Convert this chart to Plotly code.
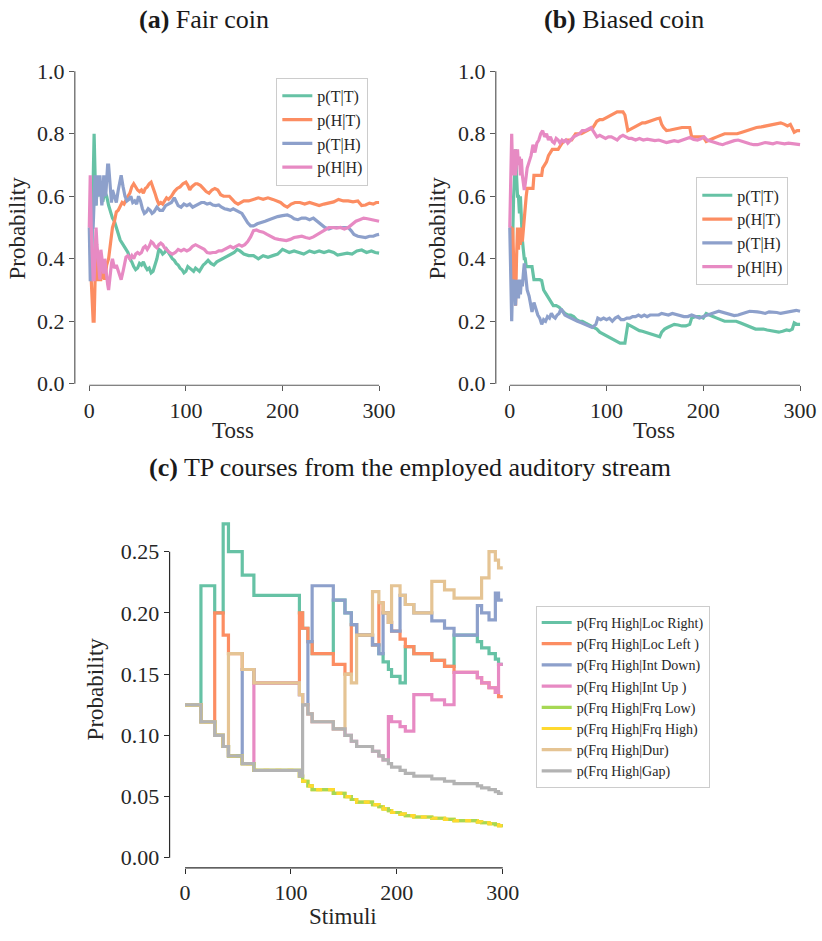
import plotly.graph_objects as go

W, H = 822, 941
FONT = "Liberation Serif"

GREEN, ORANGE, BLUE, PINK = "#66c2a5", "#fc8d62", "#8da0cb", "#e78ac3"
LIME, YELLOW, TAN, GREY = "#a6d854", "#ffd92f", "#e5c494", "#b3b3b3"

# ---------------- (a) Fair coin: running transition estimates ----------------
FAIR_TT_X = [0, 1, 2, 3, 4, 5, 6, 7, 8, 10, 12, 14, 16, 18, 20, 22, 24, 26, 28, 30, 32, 34, 36, 38, 40, 42, 44, 46, 48, 50,
             52, 54, 56, 58, 60, 62, 64, 66, 68, 70, 72, 74, 76, 78, 80, 82, 84, 86, 88, 90, 92, 94, 96, 98, 100, 102, 104,
             106, 108, 110, 112, 114, 116, 118, 120, 123, 126, 129, 132, 135, 138, 141, 144, 147, 150, 153, 156, 160, 165,
             170, 175, 180, 185, 190, 195, 200, 203, 207, 212, 217, 222, 228, 233, 238, 243, 248, 253, 257, 262, 267, 272,
             277, 282, 287, 292, 296, 300]
FAIR_TT_Y = [0.5, 0.5, 0.333, 0.5, 0.667, 0.8, 0.667, 0.571, 0.625, 0.6, 0.636, 0.583, 0.615, 0.6, 0.571, 0.55, 0.53, 0.52,
             0.5, 0.48, 0.46, 0.45, 0.44, 0.43, 0.42, 0.4, 0.39, 0.375, 0.365, 0.37, 0.385, 0.38, 0.39, 0.375, 0.365, 0.37,
             0.355, 0.36, 0.38, 0.4, 0.43, 0.425, 0.415, 0.42, 0.43, 0.42, 0.41, 0.4, 0.395, 0.385, 0.38, 0.37, 0.365, 0.355,
             0.36, 0.375, 0.37, 0.365, 0.36, 0.37, 0.365, 0.36, 0.37, 0.38, 0.385, 0.395, 0.385, 0.38, 0.39, 0.395, 0.4,
             0.405, 0.41, 0.415, 0.42, 0.43, 0.425, 0.415, 0.41, 0.41, 0.4, 0.41, 0.405, 0.41, 0.415, 0.43, 0.425, 0.42,
             0.425, 0.42, 0.415, 0.425, 0.42, 0.425, 0.42, 0.425, 0.42, 0.412, 0.415, 0.418, 0.415, 0.425, 0.428, 0.42,
             0.425, 0.42, 0.418]

FAIR_HT_X = [0, 1, 2, 3, 4, 5, 6, 7, 8, 9, 10, 12, 14, 16, 18, 20, 22, 24, 26, 28, 30, 32, 34, 36, 38, 40, 42, 44, 46, 48,
             50, 52, 54, 56, 58, 60, 62, 64, 66, 68, 70, 72, 74, 76, 78, 80, 82, 85, 88, 91, 94, 97, 100, 102, 104, 106,
             108, 110, 112, 115, 118, 121, 124, 127, 130, 133, 136, 139, 142, 145, 148, 151, 154, 157, 160, 165, 170, 175,
             180, 185, 190, 195, 198, 202, 205, 209, 213, 218, 223, 228, 233, 238, 243, 248, 253, 258, 263, 268, 273, 278,
             282, 286, 290, 294, 297, 300]
FAIR_HT_Y = [0.5, 0.5, 0.333, 0.25, 0.2, 0.2, 0.333, 0.333, 0.429, 0.375, 0.333, 0.333, 0.36, 0.333, 0.38, 0.4, 0.45, 0.5,
             0.52, 0.55, 0.555, 0.57, 0.58, 0.575, 0.59, 0.6, 0.61, 0.63, 0.64, 0.63, 0.62, 0.615, 0.62, 0.61, 0.625, 0.63,
             0.64, 0.645, 0.63, 0.61, 0.59, 0.575, 0.58, 0.575, 0.585, 0.595, 0.59, 0.6, 0.615, 0.625, 0.63, 0.64, 0.645,
             0.635, 0.62, 0.63, 0.635, 0.64, 0.64, 0.635, 0.625, 0.615, 0.61, 0.62, 0.625, 0.62, 0.605, 0.6, 0.6, 0.6, 0.59,
             0.58, 0.575, 0.58, 0.585, 0.585, 0.59, 0.595, 0.59, 0.595, 0.59, 0.585, 0.58, 0.57, 0.565, 0.575, 0.58, 0.58,
             0.575, 0.58, 0.575, 0.57, 0.575, 0.578, 0.582, 0.59, 0.585, 0.585, 0.582, 0.585, 0.57, 0.572, 0.578, 0.575,
             0.58, 0.58]

FAIR_TH_X = [0, 1, 2, 3, 4, 5, 6, 7, 8, 9, 10, 11, 12, 13, 14, 15, 16, 17, 18, 19, 20, 21, 22, 23, 24, 26, 28, 30, 32, 33,
             35, 37, 39, 41, 43, 45, 47, 49, 51, 53, 55, 57, 59, 61, 63, 65, 67, 70, 73, 76, 79, 82, 85, 88, 90, 92, 95, 98,
             101, 104, 107, 110, 113, 116, 119, 122, 125, 128, 131, 134, 137, 140, 143, 146, 149, 152, 155, 158, 161, 164,
             167, 170, 174, 178, 182, 186, 190, 195, 200, 205, 209, 212, 216, 220, 224, 228, 232, 236, 240, 244, 248, 252,
             256, 260, 264, 268, 271, 274, 278, 282, 286, 290, 294, 297, 300]
FAIR_TH_Y = [0.5, 0.333, 0.333, 0.5, 0.5, 0.6, 0.667, 0.571, 0.625, 0.667, 0.6, 0.667, 0.615, 0.571, 0.6, 0.667, 0.625,
             0.6, 0.65, 0.7, 0.7, 0.65, 0.6, 0.58, 0.62, 0.6, 0.58, 0.62, 0.65, 0.667, 0.63, 0.6, 0.585, 0.59, 0.6, 0.58,
             0.585, 0.575, 0.6, 0.585, 0.56, 0.545, 0.55, 0.56, 0.555, 0.545, 0.55, 0.565, 0.555, 0.555, 0.57, 0.575, 0.58,
             0.595, 0.58, 0.57, 0.565, 0.575, 0.57, 0.575, 0.565, 0.57, 0.575, 0.58, 0.58, 0.575, 0.578, 0.572, 0.57, 0.572,
             0.565, 0.56, 0.558, 0.555, 0.56, 0.555, 0.552, 0.545, 0.53, 0.515, 0.505, 0.505, 0.512, 0.515, 0.52, 0.525,
             0.53, 0.535, 0.538, 0.54, 0.535, 0.528, 0.525, 0.53, 0.53, 0.525, 0.53, 0.52, 0.508, 0.5, 0.495, 0.5, 0.5,
             0.5, 0.5, 0.5, 0.49, 0.478, 0.472, 0.47, 0.468, 0.472, 0.472, 0.476, 0.478]

FAIR_HH_X = [0, 1, 2, 3, 4, 5, 6, 7, 8, 9, 10, 11, 12, 13, 14, 15, 16, 17, 18, 19, 20, 21, 22, 23, 24, 25, 26, 28, 30, 32,
             33, 35, 36, 38, 40, 42, 44, 46, 48, 50, 52, 54, 56, 58, 60, 62, 64, 66, 68, 70, 72, 74, 76, 78, 80, 83, 86, 89,
             92, 95, 98, 101, 104, 107, 110, 113, 116, 119, 122, 125, 128, 131, 134, 137, 140, 143, 146, 149, 152, 155, 158,
             161, 164, 167, 170, 173, 176, 180, 184, 188, 192, 196, 200, 204, 208, 212, 216, 220, 224, 228, 232, 236, 240,
             244, 248, 252, 256, 260, 264, 268, 272, 276, 280, 284, 288, 292, 296, 300]
FAIR_HH_Y = [0.5, 0.667, 0.5, 0.4, 0.333, 0.333, 0.429, 0.5, 0.444, 0.4, 0.364, 0.333, 0.429, 0.4, 0.375, 0.353, 0.4,
             0.368, 0.333, 0.318, 0.3, 0.333, 0.36, 0.385, 0.4, 0.385, 0.37, 0.38, 0.36, 0.345, 0.333, 0.36, 0.38, 0.405,
             0.41, 0.4, 0.41, 0.4, 0.415, 0.42, 0.415, 0.42, 0.435, 0.44, 0.43, 0.44, 0.455, 0.45, 0.44, 0.435, 0.445, 0.45,
             0.445, 0.435, 0.43, 0.42, 0.415, 0.42, 0.43, 0.425, 0.43, 0.425, 0.43, 0.44, 0.445, 0.44, 0.435, 0.43, 0.42,
             0.418, 0.42, 0.42, 0.425, 0.425, 0.43, 0.435, 0.44, 0.435, 0.44, 0.445, 0.44, 0.445, 0.455, 0.47, 0.49, 0.492,
             0.488, 0.485, 0.478, 0.47, 0.465, 0.462, 0.46, 0.458, 0.462, 0.468, 0.47, 0.472, 0.468, 0.465, 0.47, 0.478,
             0.485, 0.492, 0.5, 0.5, 0.498, 0.5, 0.495, 0.5, 0.51, 0.52, 0.525, 0.53, 0.528, 0.525, 0.522, 0.52]

# ---------------- (b) Biased coin ----------------
BIAS_TT_X = [0, 1, 2, 3, 4, 5, 6, 7, 8, 9, 10, 11, 12, 13, 14, 15, 16, 17, 19, 21, 23, 25, 27, 29, 31, 33, 35, 37, 39, 41,
             43, 45, 48, 51, 54, 57, 60, 63, 66, 69, 72, 75, 78, 81, 84, 87, 90, 93, 96, 99, 102, 105, 108, 111, 114, 117,
             119, 120, 122, 125, 128, 131, 134, 137, 140, 144, 148, 152, 155, 157, 160, 163, 166, 170, 174, 178, 182, 186,
             188, 192, 196, 200, 203, 206, 210, 214, 218, 222, 226, 230, 234, 238, 242, 246, 250, 254, 258, 262, 266, 270,
             274, 278, 282, 286, 289, 292, 294, 297, 300]
BIAS_TT_Y = [0.5, 0.5, 0.333, 0.5, 0.6, 0.667, 0.75, 0.667, 0.6, 0.6, 0.545, 0.6, 0.5, 0.462, 0.429, 0.4, 0.4, 0.375,
             0.375, 0.375, 0.375, 0.333, 0.333, 0.333, 0.333, 0.33, 0.3, 0.29, 0.28, 0.27, 0.26, 0.25, 0.25, 0.245, 0.235,
             0.225, 0.22, 0.22, 0.215, 0.205, 0.2, 0.2, 0.195, 0.19, 0.185, 0.18, 0.175, 0.165, 0.16, 0.155, 0.15, 0.145,
             0.14, 0.135, 0.13, 0.13, 0.13, 0.15, 0.19, 0.185, 0.18, 0.175, 0.17, 0.168, 0.165, 0.16, 0.155, 0.152, 0.15,
             0.165, 0.175, 0.18, 0.185, 0.19, 0.188, 0.185, 0.185, 0.19, 0.21, 0.215, 0.215, 0.21, 0.225, 0.22, 0.215,
             0.21, 0.205, 0.2, 0.2, 0.2, 0.2, 0.195, 0.19, 0.185, 0.18, 0.175, 0.175, 0.175, 0.172, 0.17, 0.168, 0.165,
             0.168, 0.172, 0.17, 0.175, 0.195, 0.19, 0.19]

BIAS_HT_X = [0, 1, 2, 3, 4, 5, 6, 7, 8, 9, 10, 11, 12, 13, 14, 15, 16, 17, 18, 20, 22, 24, 25, 27, 29, 31, 33, 34, 36, 38,
             40, 42, 44, 47, 50, 52, 54, 56, 58, 61, 64, 66, 68, 71, 74, 77, 80, 83, 86, 88, 90, 93, 96, 99, 102, 105, 108,
             111, 114, 117, 119, 121, 122, 125, 128, 131, 134, 137, 140, 144, 148, 152, 155, 157, 159, 162, 166, 170, 174,
             178, 182, 186, 188, 192, 196, 200, 203, 206, 210, 214, 218, 222, 226, 230, 235, 240, 245, 250, 255, 260, 265,
             270, 275, 280, 284, 287, 290, 292, 294, 297, 300]
BIAS_HT_Y = [0.5, 0.5, 0.333, 0.5, 0.4, 0.333, 0.25, 0.4, 0.5, 0.429, 0.5, 0.444, 0.5, 0.455, 0.5, 0.54, 0.58, 0.6, 0.625,
             0.625, 0.625, 0.625, 0.667, 0.667, 0.667, 0.667, 0.667, 0.69, 0.7, 0.71, 0.73, 0.74, 0.75, 0.75, 0.75, 0.76,
             0.77, 0.775, 0.78, 0.78, 0.78, 0.79, 0.8, 0.8, 0.8, 0.805, 0.81, 0.815, 0.82, 0.83, 0.84, 0.845, 0.845, 0.85,
             0.855, 0.86, 0.865, 0.87, 0.87, 0.87, 0.86, 0.83, 0.81, 0.815, 0.82, 0.825, 0.83, 0.835, 0.835, 0.84, 0.845,
             0.848, 0.85, 0.83, 0.82, 0.81, 0.812, 0.815, 0.818, 0.82, 0.82, 0.82, 0.79, 0.79, 0.79, 0.79, 0.775, 0.78,
             0.785, 0.79, 0.795, 0.8, 0.8, 0.8, 0.8, 0.805, 0.81, 0.815, 0.82, 0.822, 0.825, 0.83, 0.833, 0.835, 0.83,
             0.825, 0.83, 0.815, 0.805, 0.81, 0.81]

BIAS_TH_X = [0, 1, 2, 3, 4, 5, 6, 7, 8, 9, 10, 11, 12, 13, 14, 15, 16, 17, 18, 20, 22, 23, 25, 27, 29, 31, 33, 35, 37, 39,
             41, 43, 45, 47, 49, 51, 53, 55, 57, 60, 63, 66, 70, 74, 78, 82, 85, 87, 89, 91, 94, 97, 100, 103, 106, 109,
             112, 115, 118, 121, 124, 127, 130, 133, 136, 139, 142, 145, 148, 151, 154, 157, 160, 164, 168, 172, 176, 180,
             184, 188, 192, 196, 200, 204, 208, 212, 216, 220, 224, 228, 232, 236, 240, 244, 248, 252, 256, 260, 264, 268,
             272, 276, 280, 284, 288, 292, 296, 300]
BIAS_TH_Y = [0.5, 0.333, 0.2, 0.333, 0.286, 0.333, 0.25, 0.333, 0.3, 0.273, 0.333, 0.286, 0.333, 0.312, 0.35, 0.385,
             0.36, 0.333, 0.3, 0.28, 0.25, 0.23, 0.26, 0.24, 0.22, 0.21, 0.19, 0.205, 0.2, 0.215, 0.21, 0.225, 0.215, 0.21,
             0.22, 0.225, 0.24, 0.23, 0.22, 0.215, 0.21, 0.205, 0.2, 0.195, 0.19, 0.185, 0.18, 0.185, 0.19, 0.21, 0.205,
             0.21, 0.205, 0.21, 0.2, 0.21, 0.215, 0.205, 0.205, 0.21, 0.21, 0.215, 0.215, 0.22, 0.215, 0.22, 0.215, 0.22,
             0.22, 0.218, 0.22, 0.225, 0.222, 0.22, 0.225, 0.222, 0.218, 0.215, 0.215, 0.22, 0.215, 0.21, 0.215, 0.22,
             0.225, 0.228, 0.232, 0.228, 0.225, 0.22, 0.218, 0.22, 0.225, 0.228, 0.232, 0.232, 0.23, 0.228, 0.225, 0.23,
             0.23, 0.228, 0.225, 0.228, 0.23, 0.232, 0.235, 0.232]

BIAS_HH_X = [0, 1, 2, 3, 4, 5, 6, 7, 8, 9, 10, 11, 12, 13, 14, 15, 16, 17, 18, 20, 22, 24, 26, 28, 30, 32, 34, 36, 38, 40,
             42, 44, 46, 48, 50, 52, 54, 56, 58, 60, 63, 66, 69, 72, 75, 78, 81, 84, 86, 88, 90, 93, 96, 99, 102, 105, 108,
             111, 114, 117, 120, 123, 126, 130, 134, 138, 142, 146, 150, 154, 158, 162, 166, 170, 174, 178, 182, 186, 190,
             194, 198, 201, 204, 208, 212, 216, 220, 224, 228, 232, 236, 240, 244, 248, 252, 256, 260, 264, 268, 272, 276,
             280, 284, 288, 292, 296, 300]
BIAS_HH_Y = [0.5, 0.667, 0.8, 0.667, 0.714, 0.75, 0.667, 0.7, 0.75, 0.7, 0.727, 0.667, 0.72, 0.667, 0.65, 0.62, 0.64,
             0.667, 0.69, 0.71, 0.73, 0.765, 0.74, 0.77, 0.78, 0.8, 0.81, 0.79, 0.8, 0.78, 0.79, 0.775, 0.77, 0.785, 0.78,
             0.77, 0.78, 0.775, 0.78, 0.77, 0.78, 0.79, 0.795, 0.8, 0.81, 0.81, 0.815, 0.82, 0.81, 0.8, 0.79, 0.795, 0.79,
             0.785, 0.79, 0.79, 0.785, 0.78, 0.79, 0.795, 0.79, 0.785, 0.785, 0.78, 0.785, 0.78, 0.783, 0.78, 0.778, 0.78,
             0.775, 0.772, 0.775, 0.778, 0.775, 0.78, 0.785, 0.788, 0.782, 0.78, 0.785, 0.79, 0.78, 0.775, 0.772, 0.768,
             0.765, 0.77, 0.775, 0.778, 0.78, 0.775, 0.772, 0.768, 0.765, 0.765, 0.768, 0.772, 0.77, 0.768, 0.772, 0.77,
             0.768, 0.77, 0.768, 0.765, 0.765]

COIN_LABELS = ["p(T|T)", "p(H|T)", "p(T|H)", "p(H|H)"]

# ---------------- (c) TP courses: step changes at each stimulus event ----------------
STIM_STEPS = [0, 15, 28, 36, 41, 54, 65, 108, 111, 116, 120, 140, 151, 157, 162, 177, 183, 187, 192, 195, 203, 208, 216,
              233, 245, 254, 276, 280, 287, 293, 296, 300]
TP_LOC_RIGHT = [0.125, 0.2222, 0.2, 0.2727, 0.25, 0.2308, 0.2143, 0.2, 0.1875, 0.1765, 0.1667, 0.2105, 0.2, 0.1905,
                0.1818, 0.1739, 0.1667, 0.16, 0.1538, 0.1481, 0.1429, 0.1724, 0.1667, 0.1613, 0.1563, 0.1818, 0.1765,
                0.1714, 0.1667, 0.1622, 0.1579, 0.1579]
TP_LOC_LEFT = [0.125, 0.1111, 0.2, 0.1818, 0.1667, 0.1538, 0.1429, 0.2, 0.1875, 0.1765, 0.1667, 0.1579, 0.15, 0.1905,
               0.1818, 0.1739, 0.2083, 0.2, 0.1923, 0.1852, 0.1786, 0.1724, 0.1667, 0.1613, 0.1563, 0.1515, 0.1471,
               0.1429, 0.1389, 0.1351, 0.1316, 0.1316]
TP_INT_DOWN = [0.125, 0.1111, 0.1, 0.0909, 0.0833, 0.1538, 0.1429, 0.1333, 0.125, 0.1765, 0.2222, 0.2105, 0.2, 0.1905,
               0.1818, 0.1739, 0.1667, 0.2, 0.1923, 0.1852, 0.2143, 0.2069, 0.2, 0.1935, 0.1875, 0.1818, 0.2059, 0.2,
               0.1944, 0.2162, 0.2105, 0.2105]
TP_INT_UP = [0.125, 0.1111, 0.1, 0.0909, 0.0833, 0.0769, 0.1429, 0.1333, 0.125, 0.1176, 0.1111, 0.1053, 0.1, 0.0952,
             0.0909, 0.087, 0.0833, 0.08, 0.1154, 0.1111, 0.1071, 0.1034, 0.1333, 0.129, 0.125, 0.1515, 0.1471, 0.1429,
             0.1389, 0.1351, 0.1579, 0.1579]
TP_FRQ_LOW = [0.125, 0.1111, 0.1, 0.0909, 0.0833, 0.0769, 0.0714, 0.0667, 0.0625, 0.0588, 0.0556, 0.0526, 0.05, 0.0476,
              0.0455, 0.0435, 0.0417, 0.04, 0.0385, 0.037, 0.0357, 0.0345, 0.0333, 0.0323, 0.0313, 0.0303, 0.0294,
              0.0286, 0.0278, 0.027, 0.0263, 0.0263]
TP_FRQ_HIGH = [0.125, 0.1111, 0.1, 0.0909, 0.0833, 0.0769, 0.0714, 0.0667, 0.0625, 0.0588, 0.0556, 0.0526, 0.05, 0.0476,
               0.0455, 0.0435, 0.0417, 0.04, 0.0385, 0.037, 0.0357, 0.0345, 0.0333, 0.0323, 0.0313, 0.0303, 0.0294,
               0.0286, 0.0278, 0.027, 0.0263, 0.0263]
TP_DUR = [0.125, 0.1111, 0.1, 0.0909, 0.1667, 0.1538, 0.1429, 0.1333, 0.125, 0.1176, 0.1111, 0.1053, 0.15, 0.1429,
          0.1818, 0.2174, 0.2083, 0.2, 0.1923, 0.2222, 0.2143, 0.2069, 0.2, 0.2258, 0.2188, 0.2121, 0.2121, 0.2286, 0.25,
          0.2432, 0.2368, 0.2368]
TP_GAP = [0.125, 0.1111, 0.1, 0.0909, 0.0833, 0.0769, 0.0714, 0.0667, 0.125, 0.1176, 0.1111, 0.1053, 0.1, 0.0952, 0.0909,
          0.087, 0.0833, 0.08, 0.0769, 0.0741, 0.0714, 0.069, 0.0667, 0.0645, 0.0625, 0.0606, 0.0588, 0.0571, 0.0556,
          0.0541, 0.0526, 0.0526]
TP_LABELS = ["p(Frq High|Loc Right)", "p(Frq High|Loc Left )", "p(Frq High|Int Down)", "p(Frq High|Int Up )",
             "p(Frq High|Frq Low)", "p(Frq High|Frq High)", "p(Frq High|Dur)", "p(Frq High|Gap)"]

COIN_TICKS = [0, 0.2, 0.4, 0.6, 0.8, 1.0]
TOSS_TICKS = [0, 100, 200, 300]
TP_TICKS = [0, 0.05, 0.10, 0.15, 0.20, 0.25]
STIM_TICKS = [0, 100, 200, 300]


# ---------------- layout helpers (pixel geometry -> paper / data units) ----------------
def pxx(p):
    return p / W


def pxy(p):
    return 1 - p / H


def span(d0, d1, v0, p0, v1, p1):
    """Data range covering pixel span d0..d1 when value v0 sits at pixel p0 and v1 at p1."""
    s = (p1 - p0) / (v1 - v0)
    return [v0 + (d0 - p0) / s, v0 + (d1 - p0) / s]


SPINE_AB = "#5a5a5a"
SPINE_C = "#2b2b2b"
TICK_FONT = dict(family=FONT, size=22, color="#262626")
LINE_W = 3.2

fig = go.Figure()

coin_colors = [GREEN, ORANGE, BLUE, PINK]
fair = [(FAIR_TT_X, FAIR_TT_Y), (FAIR_HT_X, FAIR_HT_Y), (FAIR_TH_X, FAIR_TH_Y), (FAIR_HH_X, FAIR_HH_Y)]
biased = [(BIAS_TT_X, BIAS_TT_Y), (BIAS_HT_X, BIAS_HT_Y), (BIAS_TH_X, BIAS_TH_Y), (BIAS_HH_X, BIAS_HH_Y)]

for (xs, ys), c, name in zip(fair, coin_colors, COIN_LABELS):
    fig.add_trace(go.Scatter(x=xs, y=ys, mode="lines", name=name, line=dict(color=c, width=LINE_W),
                             xaxis="x", yaxis="y", legend="legend"))
for (xs, ys), c, name in zip(biased, coin_colors, COIN_LABELS):
    fig.add_trace(go.Scatter(x=xs, y=ys, mode="lines", name=name, line=dict(color=c, width=LINE_W),
                             xaxis="x2", yaxis="y2", legend="legend2"))

tp_series = [TP_LOC_RIGHT, TP_LOC_LEFT, TP_INT_DOWN, TP_INT_UP, TP_FRQ_LOW, TP_FRQ_HIGH, TP_DUR, TP_GAP]
tp_colors = [GREEN, ORANGE, BLUE, PINK, LIME, YELLOW, TAN, GREY]


def tp_trace(ys, color, name, rank, dash="solid", legend=True):
    return go.Scatter(x=STIM_STEPS, y=ys, mode="lines", name=name, line=dict(color=color, width=LINE_W, shape="hv",
                      dash=dash), xaxis="x3", yaxis="y3", legend="legend3", legendrank=rank, showlegend=legend)


# drawing order: the two frequency curves coincide, so the yellow one sits under the lime one
# and a dashed yellow copy is laid on top of it
for i in range(4):
    fig.add_trace(tp_trace(tp_series[i], tp_colors[i], TP_LABELS[i], i + 1))
fig.add_trace(tp_trace(TP_FRQ_HIGH, YELLOW, TP_LABELS[5], 6))
fig.add_trace(tp_trace(TP_FRQ_LOW, LIME, TP_LABELS[4], 5))
fig.add_trace(tp_trace(TP_FRQ_HIGH, YELLOW, TP_LABELS[5], 6, dash="6px,6px", legend=False))
fig.add_trace(tp_trace(TP_DUR, TAN, TP_LABELS[6], 7))
fig.add_trace(tp_trace(TP_GAP, GREY, TP_LABELS[7], 8))

# pixel geometry of the three panels
A = dict(left=75, right=395, top=60, bottom=388, x0=89.5, x300=380, y0=386.5, y1=69.3)
B = dict(left=497, right=817, top=60, bottom=388, x0=511, x300=802, y0=386.5, y1=69.3)
C = dict(left=170, right=520, top=520, bottom=878, x0=185.5, x300=504, y0=867.7, y25=557)


def xaxis(g, anchor, ticks, color):
    return dict(domain=[pxx(g["left"]), pxx(g["right"])], anchor=anchor,
                range=span(g["left"], g["right"], 0, g["x0"], 300, g["x300"]),
                tickvals=ticks, ticks="outside", ticklen=5, tickwidth=1.2, tickcolor=color,
                showline=False, showgrid=False, zeroline=False, tickfont=TICK_FONT, fixedrange=True)


layout_axes = {
    "xaxis": xaxis(A, "y", TOSS_TICKS, SPINE_AB),
    "xaxis2": xaxis(B, "y2", TOSS_TICKS, SPINE_AB),
    "xaxis3": xaxis(C, "y3", STIM_TICKS, SPINE_C),
}
for key, g, anchor in (("yaxis", A, "x"), ("yaxis2", B, "x2")):
    layout_axes[key] = dict(domain=[pxy(g["bottom"]), pxy(g["top"])], anchor=anchor,
                            range=span(g["bottom"], g["top"], 0, g["y0"], 1, g["y1"]),
                            tickvals=COIN_TICKS, tickformat=".1f", ticks="outside", ticklen=5, tickwidth=1.2,
                            tickcolor=SPINE_AB, showline=False, showgrid=False, zeroline=False,
                            tickfont=TICK_FONT, fixedrange=True)
layout_axes["yaxis3"] = dict(domain=[pxy(C["bottom"]), pxy(C["top"])], anchor="x3",
                             range=span(C["bottom"], C["top"], 0, C["y0"], 0.25, C["y25"]),
                             tickvals=TP_TICKS, tickformat=".2f", ticks="outside", ticklen=5, tickwidth=1.2,
                             tickcolor=SPINE_C, showline=False, showgrid=False, zeroline=False,
                             tickfont=TICK_FONT, fixedrange=True)

# trimmed spines (run only between the first and last tick)
shapes = []
for g, xr, yr, top, col in ((A, "x", "y", 1.0, SPINE_AB), (B, "x2", "y2", 1.0, SPINE_AB), (C, "x3", "y3", 0.25, SPINE_C)):
    shapes.append(dict(type="line", xref="paper", yref=yr, x0=pxx(g["left"]), x1=pxx(g["left"]), y0=0, y1=top,
                       line=dict(color=col, width=1.2)))
    shapes.append(dict(type="line", xref=xr, yref="paper", x0=0, x1=300, y0=pxy(g["bottom"]), y1=pxy(g["bottom"]),
                       line=dict(color=col, width=1.2)))

LABEL_FONT = dict(family=FONT, size=23, color="#262626")
TITLE_FONT = dict(family=FONT, size=26, color="#1a1a1a")


def text(s, xpx, ypx, font, angle=0):
    return dict(text=s, x=pxx(xpx), y=pxy(ypx), xref="paper", yref="paper", showarrow=False,
                xanchor="center", yanchor="middle", font=font, textangle=angle)


annotations = [
    text("<b>(a)</b> Fair coin", 204, 17, TITLE_FONT),
    text("<b>(b)</b> Biased coin", 626, 17, TITLE_FONT),
    text("<b>(c)</b> TP courses from the employed auditory stream", 411, 472, TITLE_FONT),
    text("Probability", 18, 228, LABEL_FONT, -90),
    text("Probability", 439, 228, LABEL_FONT, -90),
    text("Probability", 96, 696, LABEL_FONT, -90),
    text("Toss", 234, 434, LABEL_FONT),
    text("Toss", 656, 434, LABEL_FONT),
    text("Stimuli", 344, 927, LABEL_FONT),
]

LEG_BOX = dict(bgcolor="rgba(255,255,255,0.85)", bordercolor="#cccccc", borderwidth=1,
               xref="paper", yref="paper", xanchor="left", yanchor="top", tracegroupgap=0)

fig.update_layout(
    width=W, height=H, margin=dict(l=0, r=0, t=0, b=0),
    paper_bgcolor="white", plot_bgcolor="white",
    font=dict(family=FONT, color="#262626"),
    showlegend=True,
    legend=dict(x=pxx(277), y=pxy(76), font=dict(family=FONT, size=16, color="#262626"), **LEG_BOX),
    legend2=dict(x=pxx(698), y=pxy(177), font=dict(family=FONT, size=16, color="#262626"), **LEG_BOX),
    legend3=dict(x=pxx(537), y=pxy(612), font=dict(family=FONT, size=14, color="#262626"),
                 traceorder="normal", **LEG_BOX),
    shapes=shapes, annotations=annotations,
    **layout_axes,
)

fig.write_html("out.html")
